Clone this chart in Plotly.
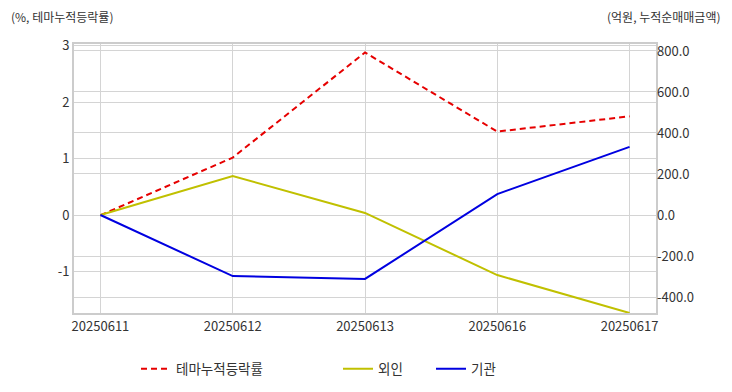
import plotly.graph_objects as go

dates = ["20250611", "20250612", "20250613", "20250616", "20250617"]
theme_rate = [0.0, 1.02, 2.88, 1.48, 1.75]
foreign = [0.0, 190.0, 10.0, -293.0, -478.0]
institution = [0.0, -298.0, -312.0, 102.0, 332.0]

left_ticks = [-1, 0, 1, 2, 3]
right_ticks = [-400, -200, 0, 200, 400, 600, 800]

FONT = "Noto Sans CJK KR"
W, H = 732, 392
L, R, T, B = 74, 76, 44, 79

fig = go.Figure()
fig.add_trace(go.Scatter(x=dates, y=theme_rate, mode="lines", name="테마누적등락률",
                         line=dict(color="#e60000", width=2, dash="6px,4px"), yaxis="y", legend="legend"))
fig.add_trace(go.Scatter(x=dates, y=foreign, mode="lines", name="외인",
                         line=dict(color="#c0c000", width=2), yaxis="y2", legend="legend2"))
fig.add_trace(go.Scatter(x=dates, y=institution, mode="lines", name="기관",
                         line=dict(color="#0000e0", width=2), yaxis="y2", legend="legend3"))

pw = W - L - R
def lx(px):
    return (px - L) / pw
ph = H - T - B
def ly(py):
    return (H - B - py) / ph

leg_common = dict(orientation="h", yanchor="middle", xanchor="left", bgcolor="rgba(0,0,0,0)",
                  font=dict(family=FONT, size=13.5, color="#333"), itemwidth=30)

tick_font = dict(family=FONT, size=13, color="#333")

fig.update_layout(
    width=W, height=H,
    margin=dict(l=L, r=R, t=T, b=B, autoexpand=False),
    paper_bgcolor="white", plot_bgcolor="white",
    font=dict(family=FONT, size=12, color="#333"),
    xaxis=dict(type="category", range=[-0.2, 4.2], showgrid=True, gridcolor="#d4d4d4", gridwidth=1,
               showline=True, mirror=True, linecolor="#cccccc", linewidth=2, ticks="",
               tickfont=tick_font, zeroline=False, automargin=False),
    yaxis=dict(range=[-1.73, 3.03], tickvals=left_ticks, ticktext=[str(v) for v in left_ticks],
               showgrid=True, gridcolor="#d4d4d4", gridwidth=1, zeroline=False,
               showline=True, mirror=True, linecolor="#cccccc", linewidth=2, ticks="",
               tickfont=tick_font, automargin=False),
    yaxis2=dict(range=[-478, 834], overlaying="y", side="right", tickvals=right_ticks,
                ticktext=[("-" if v < 0 else "") + f"{abs(v):.1f}" for v in right_ticks],
                showgrid=True, gridcolor="#d4d4d4", gridwidth=1, zeroline=False, ticks="",
                tickfont=tick_font, automargin=False),
    showlegend=True,
    legend=dict(x=lx(136), y=ly(369), **leg_common),
    legend2=dict(x=lx(338), y=ly(369), **leg_common),
    legend3=dict(x=lx(431), y=ly(369), **leg_common),
    annotations=[
        dict(text="(%, 테마누적등락률)", xref="paper", yref="paper", x=lx(9), y=ly(16),
             xanchor="left", yanchor="middle", showarrow=False, font=dict(family=FONT, size=12, color="#333")),
        dict(text="(억원, 누적순매매금액)", xref="paper", yref="paper", x=lx(723), y=ly(16),
             xanchor="right", yanchor="middle", showarrow=False, font=dict(family=FONT, size=12, color="#333")),
    ],
)

fig.write_html("out.html", config={"displayModeBar": False},
               post_script="document.body.style.margin='0';document.body.style.padding='0';")
